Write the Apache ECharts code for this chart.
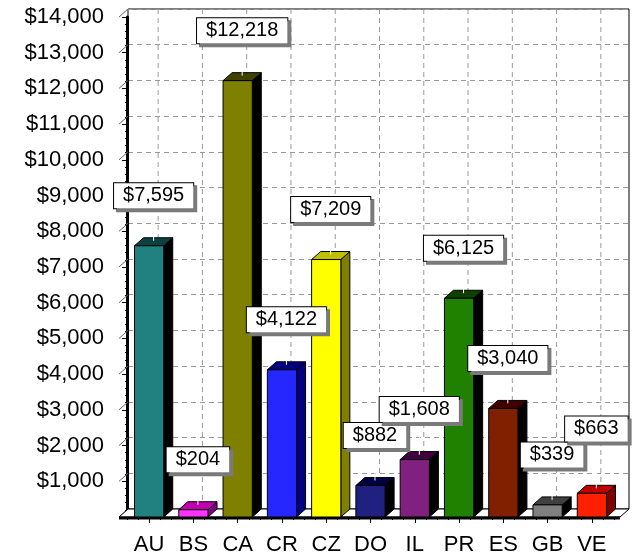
<!DOCTYPE html>
<html>
<head>
<meta charset="utf-8">
<script src="https://cdn.jsdelivr.net/npm/echarts@6/dist/echarts.min.js"></script>
<style>
  html, body { margin: 0; padding: 0; background: #fff; }
  #chart { width: 633px; height: 560px; }
</style>
</head>
<body>
<div id="chart"></div>
<script>
// data
const countries = ['AU', 'BS', 'CA', 'CR', 'CZ', 'DO', 'IL', 'PR', 'ES', 'GB', 'VE'];
const totals = [7595, 204, 12218, 4122, 7209, 882, 1608, 6125, 3040, 339, 663];
const yMax = 14000;
const yStep = 1000;

// colours (front / top / side face)
const frontColors = ['#218080', '#ff33ff', '#808000', '#2626ff', '#ffff00', '#202080', '#80207f', '#208000', '#802000', '#808080', '#ff2000'];
const topColors = ['#0d4040', '#c000b0', '#404000', '#000080', '#c0c000', '#000040', '#400040', '#104000', '#400000', '#404040', '#c00000'];
const sideColors = ['#000000', '#800080', '#000000', '#000080', '#808000', '#000000', '#000000', '#000000', '#000000', '#000000', '#800000'];

const DX = 9, DY = 8;
const FONT = '"Liberation Sans", Arial, sans-serif';
const LABEL_FONT = '20px ' + FONT;
const LABEL_H = 25;
const LABEL_GAP = 50;

function money(v) {
  return '$' + Number(v).toLocaleString('en-US');
}

const measureCtx = document.createElement('canvas').getContext('2d');
measureCtx.font = LABEL_FONT;

const chart = echarts.init(document.getElementById('chart'));

// floor, left wall connectors, vertical dashed lines on the back wall
function renderFrame(params, api) {
  const cs = params.coordSys;
  const y0 = api.coord([0, 0])[1];
  const yTop = api.coord([0, yMax])[1];
  const x0 = cs.x - 8, x1 = cs.x + cs.width + 6;
  const children = [];
  for (let i = 0; i < countries.length; i++) {
    const x = api.coord([i, 0])[0] + DX;
    children.push({
      type: 'line',
      shape: { x1: x, y1: yTop - DY, x2: x, y2: y0 - DY },
      style: { stroke: '#999', lineWidth: 1, lineDash: [5, 4] }
    });
  }
  for (let v = 0; v <= yMax; v += yStep) {
    const y = api.coord([0, v])[1];
    children.push({
      type: 'line',
      shape: { x1: x0, y1: y, x2: x0 + DX, y2: y - DY },
      style: { stroke: '#666', lineWidth: 1 }
    });
  }
  children.push({
    type: 'polygon',
    shape: { points: [[x0, y0], [x1, y0], [x1 + DX, y0 - DY], [x0 + DX, y0 - DY]] },
    style: { fill: '#fff', stroke: '#000', lineWidth: 1 }
  });
  children.push({
    type: 'line',
    shape: { x1: x0, y1: y0 + 1, x2: x1, y2: y0 + 1 },
    style: { stroke: '#000', lineWidth: 3 }
  });
  return { type: 'group', children: children };
}

function renderBar(params, api) {
  const i = params.dataIndex;
  const top = api.coord([api.value(0), api.value(1)]);
  const base = api.coord([api.value(0), 0]);
  const w = api.size([1, 0])[0] * 0.66;
  const xl = top[0] - w / 2, xr = top[0] + w / 2;
  const yt = top[1], yb = base[1];
  return {
    type: 'group',
    children: [
      {
        type: 'polygon',
        shape: { points: [[xr, yt], [xr + DX, yt - DY], [xr + DX, yb - DY], [xr, yb]] },
        style: { fill: sideColors[i], stroke: '#000', lineWidth: 1 }
      },
      {
        type: 'polygon',
        shape: { points: [[xl, yt], [xr, yt], [xr + DX, yt - DY], [xl + DX, yt - DY]] },
        style: { fill: topColors[i], stroke: '#000', lineWidth: 1 }
      },
      {
        type: 'rect',
        shape: { x: xl, y: yt, width: w, height: yb - yt },
        style: { fill: frontColors[i], stroke: '#000', lineWidth: 1 }
      },
      {
        type: 'line',
        shape: { x1: top[0] + DX / 2, y1: yt - 37, x2: top[0] + DX / 2, y2: yt - 5 },
        style: { stroke: '#fff', lineWidth: 1 }
      }
    ]
  };
}

// place labels left to right; a label that hits an earlier one is pushed above it
function layoutLabels(api) {
  const boxes = [];
  for (let i = 0; i < totals.length; i++) {
    const top = api.coord([i, totals[i]]);
    const w = measureCtx.measureText(money(totals[i])).width + 18;
    const cx = top[0] + DX / 2;
    let cy = top[1] - LABEL_GAP;
    let moved = true;
    while (moved) {
      moved = false;
      for (const b of boxes) {
        const hOver = Math.abs(cx - b.cx) < (w + b.w) / 2;
        const vOver = Math.abs(cy - b.cy) < LABEL_H - 2;
        if (hOver && vOver) {
          cy = b.cy - LABEL_H - 1;
          moved = true;
        }
      }
    }
    boxes.push({ cx: cx, cy: cy, w: w });
  }
  return boxes;
}

function renderLabel(params, api) {
  const box = layoutLabels(api)[params.dataIndex];
  return {
    type: 'text',
    x: box.cx,
    y: box.cy,
    style: {
      text: money(api.value(1)),
      font: LABEL_FONT,
      fill: '#000',
      align: 'center',
      verticalAlign: 'middle',
      lineHeight: 21,
      backgroundColor: '#fff',
      borderColor: '#000',
      borderWidth: 1,
      padding: [2, 9],
      shadowColor: '#7a7a7a',
      shadowOffsetX: 3,
      shadowOffsetY: 3
    }
  };
}

const barData = countries.map((c, i) => [i, totals[i]]);

chart.setOption({
  animation: false,
  grid: [
    // front plane, bars live here
    { left: 127, top: 17, width: 487, height: 500, outerBoundsMode: 'none' },
    // back wall
    {
      left: 128, top: 9, right: 4, bottom: 51, outerBoundsMode: 'none',
      show: true, backgroundColor: '#fff', borderColor: '#000', borderWidth: 1
    }
  ],
  xAxis: [
    {
      type: 'category',
      gridIndex: 0,
      position: 'bottom',
      data: countries,
      axisLine: { show: false },
      axisTick: { show: true, alignWithLabel: true, length: 6, lineStyle: { color: '#000' } },
      axisLabel: { fontFamily: FONT, fontSize: 22, color: '#000', margin: 17 },
      splitLine: { show: false }
    },
    {
      // quarter ticks along the front edge
      type: 'value',
      gridIndex: 0,
      position: 'bottom',
      min: 0,
      max: 44,
      interval: 1,
      axisLine: { show: false },
      axisTick: { show: true, length: 3, lineStyle: { color: '#000' } },
      axisLabel: { show: false },
      splitLine: { show: false }
    },
    { type: 'value', gridIndex: 1, show: false, min: 0, max: 1 }
  ],
  yAxis: [
    {
      type: 'value',
      gridIndex: 0,
      min: 0,
      max: yMax,
      interval: yStep,
      offset: 8,
      axisLine: { show: true, lineStyle: { color: '#000', width: 3 } },
      axisTick: { show: true, length: 5, lineStyle: { color: '#000' } },
      minorTick: { show: true, splitNumber: 5, length: 2, lineStyle: { color: '#000' } },
      axisLabel: {
        fontFamily: FONT, fontSize: 22, color: '#000', margin: 15,
        formatter: v => (v === 0 ? '' : money(v))
      },
      splitLine: { show: false }
    },
    {
      type: 'value',
      gridIndex: 1,
      min: 0,
      max: yMax,
      interval: yStep,
      axisLine: { show: false },
      axisTick: { show: false },
      axisLabel: { show: false },
      splitLine: { show: true, lineStyle: { color: '#999', width: 1, type: [5, 4] } }
    }
  ],
  series: [
    {
      type: 'custom',
      xAxisIndex: 0,
      yAxisIndex: 0,
      z: 1,
      silent: true,
      renderItem: renderFrame,
      data: [[0, 0]]
    },
    {
      type: 'custom',
      xAxisIndex: 0,
      yAxisIndex: 0,
      z: 2,
      renderItem: renderBar,
      data: barData
    },
    {
      type: 'custom',
      xAxisIndex: 0,
      yAxisIndex: 0,
      z: 3,
      renderItem: renderLabel,
      data: barData
    }
  ]
});
</script>
</body>
</html>
